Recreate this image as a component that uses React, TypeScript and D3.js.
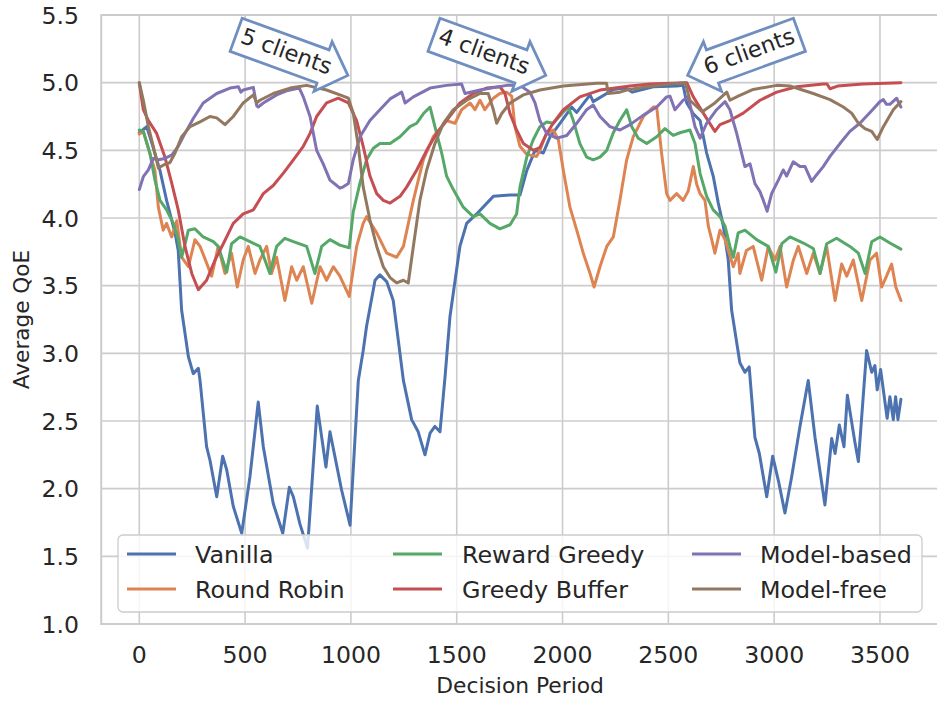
import React from "react";
import * as d3 from "d3";

const xTicks = [0, 500, 1000, 1500, 2000, 2500, 3000, 3500];
const yTicks = [1.0, 1.5, 2.0, 2.5, 3.0, 3.5, 4.0, 4.5, 5.0, 5.5];

const vanillaX = [0,35,60,98,129,169,184,200,232,255,279,287,318,334,366,394,413,444,484,523,562,586,633,678,709,728,759,795,841,882,901,956,996,1035,1058,1074,1114,1137,1169,1200,1248,1287,1318,1350,1374,1397,1421,1445,1468,1515,1547,1594,1673,1752,1799,1831,1870,1909,1941,1988,2043,2067,2130,2145,2240,2300,2330,2429,2540,2570,2587,2618,2650,2681,2712,2736,2760,2783,2799,2838,2862,2882,2909,2930,2965,2993,3020,3051,3083,3122,3161,3193,3240,3272,3288,3308,3330,3346,3382,3398,3437,3461,3476,3487,3503,3534,3547,3563,3574,3585,3599];
const vanillaY = [4.63,4.675,4.55,4.35,4.13,3.89,3.76,3.32,2.975,2.85,2.89,2.8,2.31,2.21,1.94,2.24,2.14,1.87,1.67,2.09,2.64,2.31,1.89,1.67,2.01,1.94,1.74,1.56,2.61,2.16,2.42,1.99,1.73,2.8,3.02,3.2,3.54,3.58,3.53,3.39,2.8,2.51,2.42,2.25,2.41,2.46,2.42,2.83,3.27,3.79,3.96,4.03,4.16,4.17,4.17,4.35,4.5,4.48,4.6,4.7,4.82,4.78,4.91,4.86,4.95,4.96,4.93,4.97,4.975,4.98,4.85,4.77,4.72,4.48,4.31,4.11,3.94,3.69,3.32,2.93,2.86,2.9,2.38,2.26,1.94,2.24,2.06,1.82,2.09,2.46,2.8,2.38,1.88,2.37,2.26,2.47,2.31,2.69,2.34,2.2,3.02,2.86,2.91,2.73,2.88,2.52,2.68,2.51,2.68,2.51,2.66];

const roundRobinX = [0,19,74,90,113,129,153,177,200,232,263,287,310,342,373,405,436,463,491,515,547,570,602,625,649,688,720,744,775,815,854,885,917,948,992,1027,1058,1074,1122,1169,1216,1248,1295,1342,1389,1421,1452,1492,1523,1563,1586,1610,1633,1673,1704,1736,1760,1775,1799,1831,1878,1893,1925,1956,1980,2004,2035,2067,2098,2130,2149,2177,2209,2240,2271,2303,2334,2382,2429,2445,2468,2492,2508,2539,2570,2594,2618,2634,2650,2673,2689,2705,2720,2744,2768,2807,2830,2838,2869,2901,2941,2972,3004,3028,3059,3091,3114,3154,3185,3217,3248,3288,3319,3343,3374,3414,3453,3484,3508,3531,3555,3575,3599];
const roundRobinY = [4.62,4.64,4.35,4.08,3.91,3.96,3.86,3.98,3.71,3.64,3.84,3.79,3.7,3.57,3.79,3.59,3.74,3.49,3.69,3.79,3.59,3.69,3.79,3.59,3.71,3.39,3.64,3.54,3.64,3.37,3.64,3.54,3.64,3.57,3.42,3.79,3.96,4.01,3.89,3.74,3.71,3.79,4.13,4.43,4.6,4.66,4.72,4.7,4.8,4.85,4.8,4.87,4.8,4.885,4.92,4.93,4.9,4.675,4.53,4.47,4.455,4.5,4.63,4.65,4.58,4.35,4.08,3.91,3.74,3.59,3.49,3.64,3.79,3.86,4.13,4.43,4.6,4.75,4.82,4.82,4.48,4.18,4.13,4.18,4.13,4.2,4.38,4.25,4.18,4.13,3.94,3.84,3.74,3.91,3.84,3.64,3.74,3.59,3.76,3.79,3.54,3.79,3.69,3.79,3.49,3.69,3.79,3.59,3.74,3.59,3.79,3.39,3.66,3.57,3.69,3.39,3.69,3.74,3.49,3.57,3.66,3.49,3.39];

const rewardGreedyX = [0,19,50,74,98,129,161,184,200,215,232,263,302,350,373,413,436,476,523,570,617,649,688,728,791,830,862,901,948,992,1011,1043,1074,1106,1137,1185,1232,1279,1311,1342,1374,1397,1429,1452,1484,1531,1578,1610,1657,1704,1752,1783,1799,1831,1862,1893,1925,1956,1996,2027,2051,2082,2114,2145,2177,2209,2240,2271,2303,2327,2358,2398,2445,2484,2523,2555,2602,2626,2650,2681,2712,2744,2768,2791,2807,2830,2862,2917,2972,3008,3036,3075,3138,3185,3217,3248,3295,3358,3398,3430,3461,3500,3547,3599];
const rewardGreedyY = [4.65,4.64,4.48,4.28,4.13,4.06,3.96,3.84,3.71,3.8,3.91,3.92,3.86,3.825,3.79,3.6,3.81,3.86,3.825,3.79,3.59,3.79,3.85,3.825,3.79,3.59,3.79,3.84,3.8,3.78,4.045,4.26,4.43,4.515,4.55,4.55,4.6,4.675,4.7,4.77,4.82,4.675,4.48,4.31,4.21,4.08,4.01,4.03,3.96,3.92,3.95,4.03,4.23,4.45,4.58,4.675,4.71,4.7,4.77,4.82,4.72,4.55,4.45,4.43,4.45,4.5,4.63,4.72,4.8,4.675,4.59,4.55,4.6,4.66,4.61,4.63,4.65,4.55,4.33,4.16,4.06,4.01,3.94,3.79,3.71,3.89,3.91,3.84,3.79,3.6,3.81,3.86,3.815,3.775,3.59,3.81,3.85,3.79,3.74,3.59,3.825,3.86,3.815,3.77];

const greedyBufferX = [0,19,43,82,121,153,184,216,248,279,318,358,397,444,491,539,586,633,680,728,775,807,838,885,940,988,1027,1058,1090,1122,1153,1185,1232,1264,1311,1358,1405,1452,1515,1578,1641,1704,1728,1752,1783,1815,1862,1893,1925,1956,2004,2082,2177,2319,2413,2587,2618,2665,2720,2744,2791,2854,2933,3012,3106,3232,3250,3264,3300,3420,3599];
const greedyBufferY = [5.0,4.8,4.72,4.625,4.45,4.26,4.06,3.79,3.59,3.47,3.54,3.69,3.81,3.96,4.03,4.06,4.18,4.24,4.33,4.43,4.53,4.625,4.75,4.85,4.885,4.85,4.72,4.53,4.31,4.18,4.13,4.11,4.16,4.23,4.355,4.5,4.625,4.72,4.85,4.92,4.96,4.97,4.92,4.77,4.65,4.55,4.5,4.52,4.625,4.7,4.8,4.895,4.945,4.975,4.99,5.0,4.895,4.775,4.64,4.69,4.72,4.775,4.87,4.93,4.97,4.99,4.99,4.955,4.975,4.99,5.0];

const modelBasedX = [0,19,43,66,90,121,153,184,216,255,302,366,429,468,480,491,539,555,562,586,649,696,756,775,807,838,869,901,933,948,964,988,1011,1043,1090,1137,1185,1240,1256,1295,1374,1452,1523,1539,1610,1736,1799,1846,1870,1893,1925,1972,2020,2067,2114,2145,2177,2224,2271,2319,2382,2445,2492,2508,2531,2570,2594,2626,2650,2681,2728,2768,2791,2823,2846,2862,2886,2909,2933,2949,2967,2988,3020,3043,3059,3090,3122,3146,3177,3201,3232,3264,3311,3358,3405,3453,3500,3516,3531,3547,3579,3599];
const modelBasedY = [4.21,4.305,4.355,4.44,4.43,4.44,4.465,4.53,4.625,4.735,4.85,4.92,4.96,4.97,4.93,4.946,4.965,4.83,4.82,4.85,4.91,4.94,4.96,4.895,4.75,4.5,4.4,4.28,4.24,4.22,4.23,4.255,4.43,4.6,4.72,4.8,4.88,4.93,4.85,4.895,4.96,4.98,4.99,4.92,4.946,4.98,4.98,4.93,4.85,4.72,4.625,4.59,4.61,4.7,4.8,4.835,4.75,4.675,4.65,4.69,4.76,4.82,4.895,4.9,4.8,4.87,4.895,4.675,4.59,4.7,4.8,4.86,4.8,4.625,4.48,4.38,4.4,4.255,4.195,4.13,4.05,4.18,4.28,4.355,4.31,4.415,4.38,4.38,4.27,4.32,4.38,4.455,4.55,4.64,4.7,4.78,4.86,4.875,4.84,4.84,4.885,4.82];

const modelFreeX = [0,19,43,66,90,113,145,169,200,240,287,334,366,405,444,491,539,555,570,633,712,791,885,948,988,1011,1035,1058,1090,1122,1153,1185,1216,1248,1271,1295,1326,1358,1397,1437,1484,1547,1610,1649,1673,1689,1712,1752,1815,1893,2004,2161,2208,2216,2271,2303,2398,2508,2580,2602,2660,2720,2776,2791,2830,2901,3012,3075,3185,3264,3327,3366,3398,3429,3461,3487,3516,3563,3599];
const modelFreeY = [5.0,4.87,4.675,4.53,4.37,4.39,4.41,4.48,4.6,4.675,4.71,4.75,4.74,4.69,4.75,4.85,4.91,4.85,4.87,4.92,4.96,4.98,4.946,4.91,4.885,4.775,4.53,4.23,3.985,3.79,3.64,3.56,3.52,3.54,3.52,3.79,4.13,4.355,4.55,4.7,4.8,4.87,4.92,4.92,4.8,4.7,4.77,4.85,4.91,4.946,4.975,4.995,4.995,4.92,4.93,4.946,4.97,4.99,5.0,4.87,4.785,4.85,4.93,4.87,4.9,4.95,4.98,4.975,4.92,4.875,4.82,4.775,4.7,4.66,4.64,4.58,4.675,4.8,4.86];

const seriesNames = ["Vanilla", "Round Robin", "Reward Greedy", "Greedy Buffer", "Model-based", "Model-free"];
const seriesColors = ["#4c72b0", "#dd8452", "#55a868", "#c44e52", "#8172b3", "#937860"];
const seriesXs = [vanillaX, roundRobinX, rewardGreedyX, greedyBufferX, modelBasedX, modelFreeX];
const seriesYs = [vanillaY, roundRobinY, rewardGreedyY, greedyBufferY, modelBasedY, modelFreeY];

const annotationTexts = ["5 clients", "4 clients", "6 clients"];
const annotationX = [693, 1628, 2884];
const annotationY = [5.22, 5.22, 5.22];
const annotationAngle = [20, 20, -20];
const annotationDir = ["right", "right", "left"];

const W = 937;
const H = 702;
const FONT = "DejaVu Sans, sans-serif";
const TEXT = "#262626";
const GRID = "#cccccc";

export default function App() {
  const x = d3.scaleLinear().domain([-180, 3779]).range([101.2, 939]);
  const y = d3.scaleLinear().domain([1.0, 5.5]).range([624, 15]);
  const [x0, x1] = x.range();
  const [yb, yt] = y.range();

  const line = d3
    .line<[number, number]>()
    .x((d) => x(d[0]))
    .y((d) => y(d[1]));

  const fsA = 22.5;
  const tw = 4.22 * 22;
  const th = 22;
  const pad = 0.3 * 22;
  const dx = (th + 2 * pad) / 2;
  const dxx = dx / 2;
  const bx0p = -tw / 2 - pad;
  const bx1 = tw / 2 + pad;
  const by0 = -th / 2 - pad;
  const by1 = th / 2 + pad;
  const bx0 = bx0p + pad / 1.4;
  const lArrowPts: [number, number][] = [
    [bx0 + dxx, by0],
    [bx1, by0],
    [bx1, by1],
    [bx0 + dxx, by1],
    [bx0 + dxx, by1 + dxx],
    [bx0 - dx, by0 + dx],
    [bx0 + dxx, by0 - dxx],
  ];
  const arrowPath = (dir: string) => {
    const pts = lArrowPts.map(([px, py]) => [dir === "right" ? -px : px, -py]);
    return "M" + pts.map((p) => p[0].toFixed(2) + "," + p[1].toFixed(2)).join("L") + "Z";
  };

  const legendCols = [
    { hx: 127, tx: 195 },
    { hx: 393, tx: 462 },
    { hx: 692, tx: 760 },
  ];
  const legendRows = [554, 589];

  return (
    <svg
      width={W}
      height={H}
      viewBox={`0 0 ${W} ${H}`}
      style={{ position: "absolute", left: 0, top: 0, background: "#ffffff" }}
      fontFamily={FONT}
    >
      <defs>
        <clipPath id="plotClip">
          <rect x={x0} y={yt} width={x1 - x0} height={yb - yt} />
        </clipPath>
      </defs>
      <rect x={0} y={0} width={W} height={H} fill="#ffffff" />
      {xTicks.map((t) => (
        <line key={"gx" + t} x1={x(t)} x2={x(t)} y1={yt} y2={yb} stroke={GRID} strokeWidth={1.6} />
      ))}
      {yTicks.map((t) => (
        <line key={"gy" + t} x1={x0} x2={x1} y1={y(t)} y2={y(t)} stroke={GRID} strokeWidth={1.6} />
      ))}
      <rect x={x0} y={yt} width={x1 - x0} height={yb - yt} fill="none" stroke={GRID} strokeWidth={2} />

      <g clipPath="url(#plotClip)">
        {seriesNames.map((name, i) => {
          const pts: [number, number][] = seriesXs[i].map((xv, j) => [xv, seriesYs[i][j]]);
          return (
            <path
              key={name}
              d={line(pts) || ""}
              fill="none"
              stroke={seriesColors[i]}
              strokeWidth={3}
              strokeLinejoin="round"
              strokeLinecap="round"
            />
          );
        })}
      </g>

      {xTicks.map((t) => (
        <text key={"tx" + t} x={x(t)} y={663} textAnchor="middle" fontSize={23.6} fill={TEXT}>
          {String(t)}
        </text>
      ))}
      {yTicks.map((t) => (
        <text key={"ty" + t} x={79} y={y(t) + 8.5} textAnchor="end" fontSize={23.6} fill={TEXT}>
          {t.toFixed(1)}
        </text>
      ))}

      <text x={(x0 + x1) / 2} y={693} textAnchor="middle" fontSize={21.8} fill={TEXT}>
        Decision Period
      </text>
      <text
        transform={`translate(29, ${(yt + yb) / 2}) rotate(-90)`}
        textAnchor="middle"
        fontSize={21.6}
        fill={TEXT}
      >
        Average QoE
      </text>

      {annotationTexts.map((txt, i) => (
        <g
          key={txt}
          transform={`translate(${x(annotationX[i])}, ${y(annotationY[i])}) rotate(${annotationAngle[i]})`}
        >
          <path d={arrowPath(annotationDir[i])} fill="#ffffff" stroke="#708ec0" strokeWidth={2.8} strokeLinejoin="miter" />
          <text x={0} y={6} textAnchor="middle" fontSize={fsA} fill={TEXT}>
            {txt}
          </text>
        </g>
      ))}

      <rect x={118} y={535} width={804} height={77} rx={5} ry={5} fill="#ffffff" fillOpacity={0.8} stroke="#cccccc" strokeWidth={1.3} />
      {seriesNames.map((name, i) => {
        const col = legendCols[Math.floor(i / 2)];
        const row = legendRows[i % 2];
        return (
          <g key={"lg" + name}>
            <line x1={col.hx} x2={col.hx + 49} y1={row} y2={row} stroke={seriesColors[i]} strokeWidth={3} />
            <text x={col.tx} y={row + 8.6} fontSize={23.8} fill={TEXT}>
              {name}
            </text>
          </g>
        );
      })}
    </svg>
  );
}
